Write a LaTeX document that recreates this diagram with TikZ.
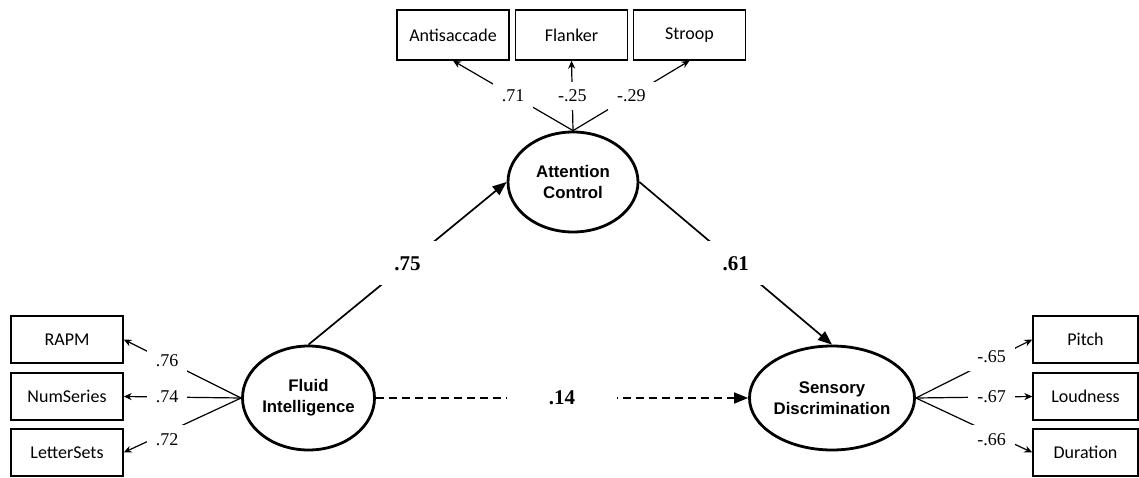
\documentclass[tikz,border=0pt]{standalone}
\usepackage{fontspec}
\setmainfont{Liberation Serif}
\newfontfamily\boxfont{Carlito}
\newfontfamily\latfont{Liberation Sans}
\usetikzlibrary{arrows.meta,shapes.geometric}
\begin{document}
\begin{tikzpicture}[x=1pt,y=-1pt,
  measure/.style={draw, line width=1.4pt, minimum width=112pt, minimum height=47pt,
    inner sep=0pt, font=\boxfont\fontsize{18}{20}\selectfont},
  latent/.style={draw, ellipse, line width=2.8pt, minimum width=132pt, minimum height=104pt,
    inner sep=0pt, align=center, font=\latfont\bfseries\fontsize{16.8}{21}\selectfont},
  loading/.style={line width=1.2pt, -{Stealth[length=8pt,width=7pt]}},
  load/.style={fill=white, inner xsep=9pt, inner ysep=8pt, font=\fontsize{18}{20}\selectfont},
  structural/.style={line width=1.7pt, -{Triangle[length=14pt,width=11pt]}},
  coef/.style={fill=white, inner sep=15pt, font=\bfseries\fontsize{21}{23}\selectfont}]
\useasboundingbox (0,0) rectangle (1139,478);

% latent constructs
\node[latent] (fl) at (308.5,398) {Fluid\\Intelligence};
\node[latent, minimum width=130pt, minimum height=100pt] (ac) at (573,182) {Attention\\Control};
\node[latent] (sd) at (832,398) {Sensory\\Discrimination};

% attention control indicators
\node[measure, minimum height=50pt] (anti) at (453,35) {Antisaccade};
\node[measure, minimum height=50pt] (flank) at (571.5,35) {Flanker};
\node[measure, minimum height=50pt] (stroop) at (689.5,35) {Stroop};

% fluid intelligence indicators
\node[measure] (rapm) at (67,339.5) {RAPM};
\node[measure] (nums) at (67,396.5) {NumSeries};
\node[measure] (lets) at (67,452.5) {LetterSets};

% sensory discrimination indicators
\node[measure, minimum width=105pt] (pitch) at (1085.5,339.5) {Pitch};
\node[measure, minimum width=105pt] (loud) at (1085.5,396.5) {Loudness};
\node[measure, minimum width=105pt] (dur) at (1085.5,452.5) {Duration};

% factor loadings
\draw[loading] (ac.north) -- node[load, pos=0.5] {.71} (anti.south);
\draw[loading] (ac.north) -- node[load, pos=0.5] {-.25} (flank.south);
\draw[loading] (ac.north) -- node[load, pos=0.5] {-.29} (stroop.south);

\draw[loading] (fl.west) -- node[load, pos=0.63] {.76} (rapm.east);
\draw[loading] (fl.west) -- node[load, pos=0.63] {.74} (nums.east);
\draw[loading] (fl.west) -- node[load, pos=0.63, yshift=-7pt] {.72} (lets.east);

\draw[loading] (sd.east) -- node[load, pos=0.65, yshift=3pt] {-.65} (pitch.west);
\draw[loading] (sd.east) -- node[load, pos=0.65] {-.67} (loud.west);
\draw[loading] (sd.east) -- node[load, pos=0.65, yshift=-6pt] {-.66} (dur.west);

% structural paths
\draw[structural] (fl.north) -- node[coef] {.75} (ac.west);
\draw[structural] (ac.east) -- node[coef] {.61} (sd.north);
\draw[structural, dash pattern=on 8pt off 5pt] (fl.east) -- node[coef, inner xsep=42pt] {.14} (sd.west);
\end{tikzpicture}
\end{document}
